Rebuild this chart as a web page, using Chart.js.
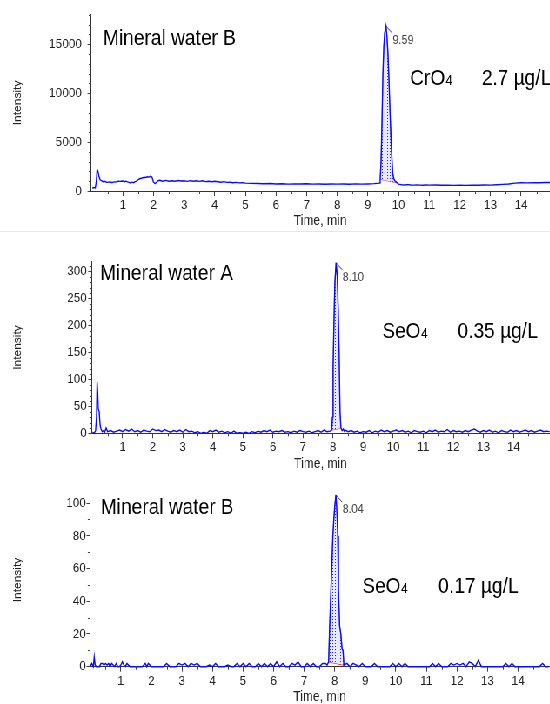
<!DOCTYPE html>
<html>
<head>
<meta charset="utf-8">
<script src="https://cdn.jsdelivr.net/npm/chart.js@4.4.1/dist/chart.umd.min.js"></script>
<style>
    html, body { margin: 0; padding: 0; background: #fff; overflow: hidden; }
    /* the source picture is squeezed sideways, so draw wider and compress */
    #wrap { width: 632px; transform: scaleX(0.87); transform-origin: 0 0; }
    .panel { position: relative; }
    #p1 { height: 231px; border-bottom: 1px solid #e6e6e6; }
    #p2 { height: 239px; }
    #p3 { height: 233px; }
</style>
</head>
<body>
<div id="wrap">
    <div class="panel" id="p1"><canvas id="chartTop"></canvas></div>
    <div class="panel" id="p2"><canvas id="chartMid"></canvas></div>
    <div class="panel" id="p3"><canvas id="chartBot"></canvas></div>
</div>
<script>
// x axis tick labels (min)
const timeTicks = [1, 2, 3, 4, 5, 6, 7, 8, 9, 10, 11, 12, 13, 14];

// y axis tick labels
const topTicks = [0, 5000, 10000, 15000];
const midTicks = [0, 50, 100, 150, 200, 250, 300];
const botTicks = [0, 20, 40, 60, 80, 100];

// integration window of each peak (min)
const topPeak = [9.40, 9.95];
const midPeak = [7.95, 8.26];
const botPeak = [7.80, 8.30];

// Mineral water B, CrO4
const topTime = [
    0.00, 0.05, 0.10, 0.13, 0.16, 0.19, 0.22, 0.26, 0.30, 0.35,
    0.40, 0.45, 0.50, 0.55, 0.60, 0.65, 0.70, 0.80, 0.85, 0.90,
    1.00, 1.05, 1.10, 1.15, 1.20, 1.25, 1.30, 1.35, 1.40, 1.45,
    1.50, 1.55, 1.60, 1.65, 1.70, 1.75, 1.80, 1.85, 1.90, 1.95,
    2.00, 2.05, 2.10, 2.15, 2.20, 2.25, 2.30, 2.40, 2.50, 2.60,
    2.70, 2.80, 2.90, 3.00, 3.10, 3.20, 3.30, 3.40, 3.50, 3.60,
    3.70, 3.80, 3.90, 4.00, 4.10, 4.20, 4.30, 4.40, 4.50, 4.60,
    4.70, 4.80, 4.90, 5.00, 5.20, 5.40, 5.60, 5.80, 6.00, 6.20,
    6.40, 6.60, 6.80, 7.00, 7.20, 7.40, 7.60, 7.80, 8.00, 8.20,
    8.40, 8.60, 8.80, 9.00, 9.20, 9.30, 9.38, 9.40, 9.43, 9.46,
    9.49, 9.52, 9.55, 9.59, 9.62, 9.65, 9.68, 9.71, 9.74, 9.77,
    9.81, 9.85, 9.90, 9.95, 10.00, 10.10, 10.20, 10.30, 10.40, 10.50,
    10.60, 10.70, 10.80, 10.90, 11.00, 11.20, 11.40, 11.60, 11.80, 12.00,
    12.20, 12.40, 12.60, 12.80, 13.00, 13.20, 13.40, 13.60, 13.80, 14.00,
    14.20, 14.40, 14.60, 14.80, 14.95
];
const topIntensity = [
    300, 350, 320, 900, 2200, 2000, 1500, 1150, 1050, 950,
    1000, 920, 880, 930, 900, 870, 910, 950, 1000, 980,
    1020, 950, 1000, 930, 880, 820, 900, 850, 950, 1000,
    1150, 1250, 1300, 1350, 1400, 1380, 1450, 1420, 1500, 1420,
    900, 750, 900, 1050, 1100, 1050, 1000, 1080, 1000, 1050,
    1000, 1070, 1020, 1050, 980, 1060, 1000, 1050, 980, 1040,
    960, 1000, 940, 990, 950, 900, 960, 880, 900, 850,
    880, 830, 850, 800, 780, 760, 740, 760, 720, 740,
    700, 730, 710, 740, 700, 720, 690, 720, 700, 710,
    690, 730, 700, 720, 750, 780, 800, 1200, 3000, 7000,
    12000, 14800, 16200, 16850, 15800, 14300, 12000, 9200, 6500, 4150,
    1800, 1200, 950, 850, 700, 640, 620, 650, 610, 600,
    630, 600, 590, 620, 600, 610, 580, 600, 570, 590,
    570, 600, 580, 610, 600, 640, 680, 720, 800, 850,
    830, 850, 840, 870, 860
];

// Mineral water A, SeO4
const midTime = [
    0.00, 0.05, 0.10, 0.13, 0.15, 0.17, 0.19, 0.22, 0.25, 0.28,
    0.32, 0.36, 0.40, 0.45, 0.50, 0.60, 0.70, 0.80, 0.90, 1.00,
    1.10, 1.20, 1.30, 1.40, 1.50, 1.60, 1.70, 1.80, 1.90, 2.00,
    2.10, 2.20, 2.30, 2.40, 2.50, 2.60, 2.70, 2.80, 2.90, 3.00,
    3.10, 3.20, 3.30, 3.40, 3.50, 3.60, 3.70, 3.80, 3.90, 4.00,
    4.10, 4.20, 4.30, 4.40, 4.50, 4.60, 4.70, 4.80, 4.90, 5.00,
    5.10, 5.20, 5.30, 5.40, 5.50, 5.60, 5.70, 5.80, 5.90, 6.00,
    6.10, 6.20, 6.30, 6.40, 6.50, 6.60, 6.70, 6.80, 6.90, 7.00,
    7.10, 7.20, 7.30, 7.40, 7.50, 7.60, 7.70, 7.80, 7.90, 7.95,
    7.98, 8.00, 8.03, 8.06, 8.10, 8.14, 8.17, 8.20, 8.23, 8.26,
    8.30, 8.34, 8.37, 8.40, 8.50, 8.60, 8.70, 8.80, 8.90, 9.00,
    9.10, 9.20, 9.30, 9.40, 9.50, 9.60, 9.70, 9.80, 9.90, 10.00,
    10.10, 10.20, 10.30, 10.40, 10.50, 10.60, 10.70, 10.80, 10.90, 11.00,
    11.10, 11.20, 11.30, 11.40, 11.50, 11.60, 11.70, 11.80, 11.90, 12.00,
    12.10, 12.20, 12.30, 12.40, 12.50, 12.60, 12.70, 12.80, 12.90, 13.00,
    13.10, 13.20, 13.30, 13.40, 13.50, 13.60, 13.70, 13.80, 13.90, 14.00,
    14.10, 14.20, 14.30, 14.40, 14.50, 14.60, 14.70, 14.80, 14.90, 15.00,
    15.10, 15.20
];
const midIntensity = [
    2, 0, 5, 30, 95, 75, 45, 40, 15, 8,
    3, 5, 2, 10, 3, 5, 2, 4, 6, 3,
    7, 4, 8, 3, 5, 2, 6, 4, 3, 8,
    5, 6, 3, 7, 4, 2, 5, 3, 6, 2,
    7, 3, 4, 1, 3, 0, 2, 0, 5, 3,
    6, 2, 4, 1, 3, 0, 4, 0, 1, 0,
    2, 0, 3, 1, 4, 2, 5, 3, 6, 2,
    4, 3, 5, 2, 3, 1, 4, 2, 5, 3,
    2, 4, 1, 3, 5, 2, 6, 3, 4, 6,
    30, 120, 210, 280, 316, 290, 230, 150, 40, 10,
    5, 8, 4, 6, 3, 5, 2, 4, 1, 3,
    2, 5, 1, 4, 2, 6, 3, 5, 2, 4,
    6, 3, 5, 2, 4, 1, 5, 3, 2, 4,
    1, 5, 3, 6, 2, 4, 3, 7, 2, 5,
    3, 4, 2, 5, 3, 6, 8, 4, 2, 5,
    3, 6, 2, 4, 1, 5, 3, 2, 6, 3,
    5, 2, 4, 6, 3, 5, 2, 4, 6, 3,
    4, 3
];

// Mineral water B, SeO4
const botTime = [
    0.00, 0.05, 0.10, 0.13, 0.16, 0.20, 0.30, 0.35, 0.40, 0.45,
    0.50, 0.55, 0.60, 0.65, 0.70, 0.75, 0.80, 0.85, 0.90, 0.95,
    1.00, 1.05, 1.10, 1.15, 1.20, 1.30, 1.40, 1.50, 1.60, 1.70,
    1.80, 1.85, 1.90, 2.00, 2.10, 2.20, 2.30, 2.40, 2.50, 2.60,
    2.70, 2.80, 2.90, 3.00, 3.10, 3.20, 3.30, 3.40, 3.50, 3.60,
    3.70, 3.80, 3.90, 4.00, 4.10, 4.20, 4.30, 4.40, 4.50, 4.60,
    4.70, 4.80, 4.90, 5.00, 5.10, 5.20, 5.30, 5.40, 5.50, 5.60,
    5.70, 5.80, 5.90, 6.00, 6.10, 6.20, 6.30, 6.40, 6.50, 6.60,
    6.70, 6.80, 6.90, 7.00, 7.10, 7.20, 7.30, 7.40, 7.50, 7.60,
    7.70, 7.75, 7.80, 7.83, 7.88, 7.94, 7.97, 8.00, 8.04, 8.07,
    8.10, 8.12, 8.16, 8.20, 8.24, 8.27, 8.30, 8.40, 8.50, 8.60,
    8.80, 8.90, 9.00, 9.10, 9.20, 9.30, 9.40, 9.50, 9.60, 9.70,
    9.80, 9.90, 10.00, 10.10, 10.20, 10.30, 10.40, 10.50, 10.60, 10.70,
    10.80, 10.90, 11.00, 11.10, 11.20, 11.30, 11.40, 11.50, 11.60, 11.70,
    11.80, 11.90, 12.00, 12.10, 12.20, 12.30, 12.40, 12.50, 12.60, 12.70,
    12.80, 12.90, 13.00, 13.10, 13.20, 13.30, 13.40, 13.50, 13.60, 13.70,
    13.80, 13.90, 14.00, 14.10, 14.20, 14.30, 14.40, 14.50, 14.60, 14.70,
    14.80, 14.90, 15.00
];
const botIntensity = [
    0, 2, 0, 6, 1, 0, 0, 2, 2, 1,
    2, 1, 2, 0, 2, 1, 0, 2, 0, 0,
    1, 3, 1, 0, 2, 0, 0, 0, 0, 0,
    2, 0, 2, 0, 0, 0, 0, 0, 2, 0,
    0, 0, 2, 1, 2, 0, 2, 1, 2, 0,
    0, 0, 1, 0, 2, 0, 0, 0, 1, 0,
    0, 2, 0, 2, 0, 2, 0, 0, 2, 0,
    2, 0, 2, 0, 3, 0, 2, 0, 0, 2,
    1, 3, 0, 0, 2, 0, 2, 0, 0, 2,
    2, 1, 3, 22, 49, 80, 90, 98, 105, 95,
    80, 49, 25, 20, 11, 10, 1, 2, 0, 2,
    0, 2, 0, 0, 0, 2, 0, 0, 0, 0,
    0, 2, 0, 2, 0, 2, 0, 0, 0, 0,
    0, 0, 0, 0, 2, 0, 2, 0, 0, 0,
    2, 1, 2, 1, 2, 0, 3, 2, 0, 4,
    0, 0, 0, 0, 0, 0, 0, 0, 2, 0,
    2, 0, 0, 0, 0, 0, 0, 0, 0, 0,
    2, 0, 0
];

const FONT = "'Liberation Sans', Arial, sans-serif";
Chart.defaults.font.family = FONT;

function dotPattern() {
    const c = document.createElement("canvas");
    c.width = 3;
    c.height = 3;
    const g = c.getContext("2d");
    g.fillStyle = "#e8e8ff";
    g.fillRect(0, 0, 3, 3);
    g.fillStyle = "#2424d4";
    g.fillRect(1, 1, 1, 1);
    return g.createPattern(c, "repeat");
}

// minor ticks, panel texts and the retention time flag
const chromLabels = {
    id: "chromLabels",
    afterDraw(chart, args, opts) {
        const { ctx } = chart;
        const x = chart.scales.x;
        const y = chart.scales.y;
        ctx.save();

        ctx.strokeStyle = "#444";
        ctx.lineWidth = 1;
        ctx.beginPath();
        for (let i = 1; i * 0.5 <= x.max; i++) {
            if (i % 2 === 0) continue;
            const px = Math.round(x.getPixelForValue(i * 0.5)) + 0.5;
            ctx.moveTo(px, x.top);
            ctx.lineTo(px, x.top + 3);
        }
        for (let i = 1; i * opts.yMinor <= y.max; i++) {
            if (opts.yTicks.includes(i * opts.yMinor)) continue;
            const py = Math.round(y.getPixelForValue(i * opts.yMinor)) + 0.5;
            ctx.moveTo(y.right, py);
            ctx.lineTo(y.right - 2.5, py);
        }
        ctx.stroke();

        ctx.fillStyle = "#000";
        ctx.textBaseline = "alphabetic";
        ctx.textAlign = "left";
        ctx.font = "22px " + FONT;
        ctx.fillText(opts.title, opts.titleAt[0], opts.titleAt[1]);

        ctx.fillText(opts.species[0], opts.speciesAt[0], opts.speciesAt[1]);
        const w = ctx.measureText(opts.species[0]).width;
        ctx.fillText(opts.conc, opts.concAt[0], opts.concAt[1]);
        ctx.font = "14px " + FONT;
        ctx.fillText(opts.species[1], opts.speciesAt[0] + w + 0.5, opts.speciesAt[1]);

        // apex of the integrated peak
        const pts = chart.data.datasets[1].data;
        let apex = pts[0];
        pts.forEach(p => { if (p.y > apex.y) apex = p; });
        const ax = x.getPixelForValue(apex.x);
        const ay = y.getPixelForValue(apex.y);
        ctx.strokeStyle = "#333";
        ctx.beginPath();
        ctx.moveTo(ax, ay);
        ctx.lineTo(ax + 7, ay + 7);
        ctx.stroke();
        ctx.fillStyle = "#444";
        ctx.font = "12.5px " + FONT;
        ctx.fillText(apex.x.toFixed(2), ax + 7.5, ay + 18);

        ctx.restore();
    }
};

function createChromChart(canvasId, panel) {
    const points = panel.time.map((t, i) => ({ x: t, y: panel.intensity[i] }));
    const peakPoints = points.filter(p => p.x >= panel.peak[0] - 1e-9 && p.x <= panel.peak[1] + 1e-9);
    const basePoints = [peakPoints[0], peakPoints[peakPoints.length - 1]];

    const ctx = document.getElementById(canvasId).getContext("2d");

    return new Chart(ctx, {
        type: "line",
        data: {
            datasets: [{
                data: points,
                borderColor: "#0a0aff",
                borderWidth: 1.4,
                pointRadius: 0,
                tension: 0,
                fill: false,
                clip: 2
            }, {
                data: peakPoints,
                borderColor: "#7d7dff",
                borderWidth: 1,
                backgroundColor: dotPattern(),
                pointRadius: 0,
                tension: 0,
                fill: "+1"
            }, {
                data: basePoints,
                borderColor: "#ff3333",
                borderWidth: 1.2,
                pointRadius: 0,
                fill: false
            }]
        },
        options: {
            responsive: true,
            maintainAspectRatio: false,
            animation: false,
            parsing: false,
            layout: {
                padding: { top: panel.areaTop, left: 0, right: 0, bottom: 0 }
            },
            plugins: {
                legend: { display: false },
                tooltip: { enabled: false },
                chromLabels: {
                    yMinor: panel.yMinor,
                    yTicks: panel.yTicks,
                    title: panel.title,
                    titleAt: panel.titleAt,
                    species: panel.species,
                    speciesAt: panel.speciesAt,
                    conc: panel.conc,
                    concAt: panel.concAt
                }
            },
            scales: {
                x: {
                    type: "linear",
                    min: panel.xMin,
                    max: panel.xMax,
                    afterBuildTicks(scale) {
                        scale.ticks = timeTicks.map(v => ({ value: v }));
                    },
                    afterFit(scale) {
                        scale.height = panel.height - panel.areaBottom;
                    },
                    grid: {
                        drawOnChartArea: false,
                        drawTicks: true,
                        tickLength: 5,
                        tickColor: "#444"
                    },
                    border: { display: true, color: "#333", width: 1 },
                    ticks: {
                        color: "#222",
                        font: { size: 13.5 },
                        padding: 1,
                        maxRotation: 0,
                        autoSkip: false,
                        callback: v => String(v)
                    },
                    title: {
                        display: true,
                        text: "Time, min",
                        color: "#222",
                        font: { size: 14, lineHeight: 1 },
                        padding: { top: 0, bottom: panel.titlePad }
                    }
                },
                y: {
                    type: "linear",
                    min: 0,
                    max: panel.yMax,
                    afterBuildTicks(scale) {
                        scale.ticks = panel.yTicks.map(v => ({ value: v }));
                    },
                    afterFit(scale) {
                        scale.width = panel.left;
                    },
                    grid: {
                        drawOnChartArea: false,
                        drawTicks: true,
                        tickLength: 4,
                        tickColor: "#444"
                    },
                    border: { display: true, color: "#333", width: 1 },
                    ticks: {
                        color: "#222",
                        font: { size: 13.5 },
                        padding: panel.yPad,
                        callback: v => String(v)
                    },
                    title: {
                        display: true,
                        text: "Intensity",
                        color: "#222",
                        font: { size: 12, lineHeight: 1 },
                        padding: { top: 14.5, bottom: 0 }
                    }
                }
            }
        },
        plugins: [chromLabels]
    });
}

createChromChart("chartTop", {
    time: topTime, intensity: topIntensity, peak: topPeak, yTicks: topTicks,
    height: 231, areaTop: 13.5, areaBottom: 191, left: 104.6,
    xMin: -0.04, xMax: 14.92, yMax: 18000, yMinor: 1000, yPad: 6.7, titlePad: 2.5,
    title: "Mineral water B", titleAt: [118.4, 45],
    species: ["CrO", "4"], speciesAt: [471.3, 85],
    conc: "2.7 µg/L", concAt: [553.7, 85]
});

createChromChart("chartMid", {
    time: midTime, intensity: midIntensity, peak: midPeak, yTicks: midTicks,
    height: 239, areaTop: 29.7, areaBottom: 201.3, left: 105.4,
    xMin: -0.03, xMax: 15.19, yMax: 318, yMinor: 10, yPad: 1.7, titlePad: 0.3,
    title: "Mineral water A", titleAt: [115, 48],
    species: ["SeO", "4"], speciesAt: [439.4, 106],
    conc: "0.35 µg/L", concAt: [526, 106]
});

createChromChart("chartBot", {
    time: botTime, intensity: botIntensity, peak: botPeak, yTicks: botTicks,
    height: 233, areaTop: 22.3, areaBottom: 195.7, left: 103.4,
    xMin: -0.01, xMax: 15.02, yMax: 106, yMinor: 10, yPad: 0.6, titlePad: 0,
    title: "Mineral water B", titleAt: [115.7, 43],
    species: ["SeO", "4"], speciesAt: [416.4, 122.3],
    conc: "0.17 µg/L", concAt: [503.8, 122.3]
});
</script>
</body>
</html>
